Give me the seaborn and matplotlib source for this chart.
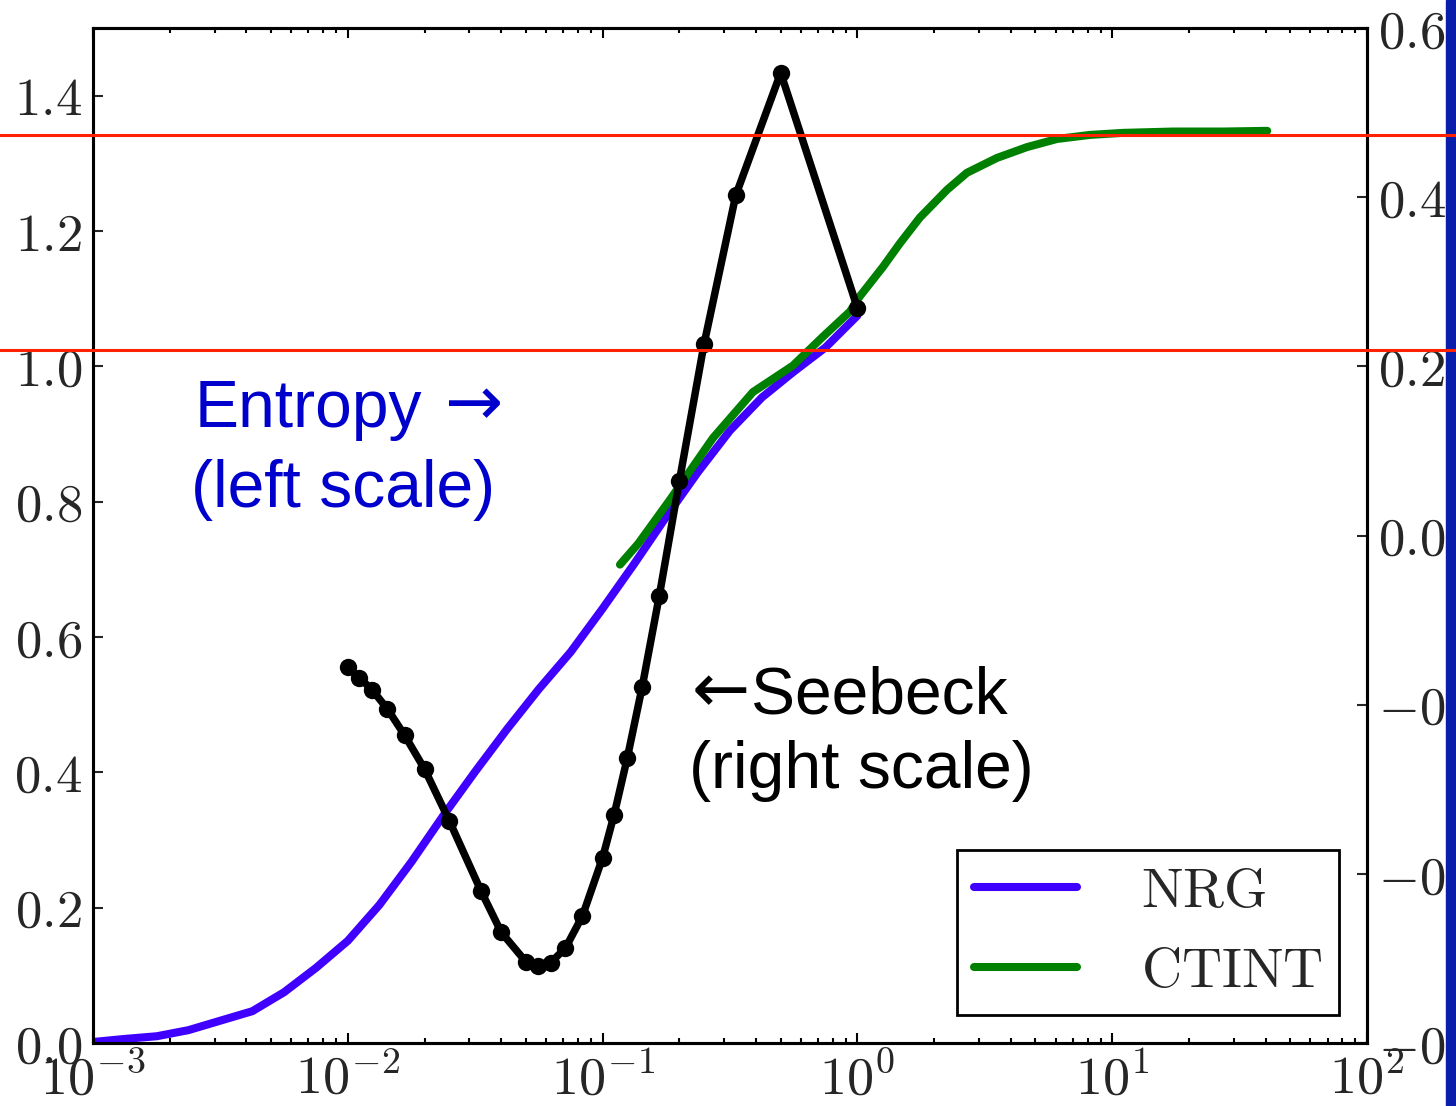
import matplotlib
matplotlib.use("Agg")
import numpy as np
import pandas as pd
import matplotlib.pyplot as plt
import seaborn as sns
from matplotlib.ticker import FixedLocator, FuncFormatter, LogLocator, NullFormatter
from matplotlib.lines import Line2D
from matplotlib.patches import Rectangle
from matplotlib.transforms import blended_transform_factory

# ---------------- data ----------------
nrg_T = [0.001, 0.00133, 0.00178, 0.00237, 0.00316, 0.00422, 0.00562, 0.0075,
         0.01, 0.0133, 0.0178, 0.0237, 0.0316, 0.0422, 0.0562, 0.075,
         0.1, 0.133, 0.178, 0.237, 0.316, 0.422, 0.562, 0.75, 1.0]
nrg_S = [0.0015, 0.006, 0.010, 0.019, 0.033, 0.047, 0.075, 0.111,
         0.151, 0.204, 0.268, 0.336, 0.401, 0.464, 0.523, 0.578,
         0.642, 0.708, 0.778, 0.844, 0.905, 0.954, 0.992, 1.028, 1.075]

ctint_T = [0.117, 0.138, 0.184, 0.271, 0.389, 0.558, 0.733, 0.935, 1.02, 1.26,
           1.47, 1.76, 2.25, 2.69, 3.53, 4.63, 6.07, 8.18, 11.0, 17.3, 27.2, 40.6]
ctint_S = [0.707, 0.738, 0.803, 0.894, 0.962, 1.001, 1.044, 1.081, 1.103, 1.147,
           1.182, 1.220, 1.261, 1.286, 1.308, 1.324, 1.336, 1.342, 1.345, 1.347, 1.347, 1.348]

seebeck_T = [0.01, 0.0111, 0.0125, 0.0143, 0.0167, 0.02, 0.025, 0.0333, 0.04, 0.05,
             0.0556, 0.0625, 0.0714, 0.0833, 0.1, 0.111, 0.125, 0.143, 0.167, 0.2,
             0.25, 0.333, 0.5, 1.0]
seebeck_val = [-0.156, -0.168, -0.183, -0.205, -0.236, -0.276, -0.337, -0.420, -0.469, -0.504,
               -0.509, -0.505, -0.488, -0.450, -0.381, -0.330, -0.263, -0.179, -0.071, 0.064,
               0.226, 0.402, 0.547, 0.269]

ref_levels = [1.342, 1.0245]          # red horizontal reference lines (left scale)
left_ticks = [0.0, 0.2, 0.4, 0.6, 0.8, 1.0, 1.2, 1.4]
right_ticks = [-0.6, -0.4, -0.2, 0.0, 0.2, 0.4, 0.6]
x_tick_exps = [-3, -2, -1, 0, 1, 2]
series_labels = ["NRG", "CTINT"]

# ---------------- style ----------------
sns.set_style("ticks")
plt.rcParams["mathtext.fontset"] = "cm"
plt.rcParams["font.family"] = ["Liberation Sans", "DejaVu Sans"]

fig = plt.figure(figsize=(14.56, 11.06), dpi=100)
ax = fig.add_axes([93 / 1456, 1 - 1043 / 1106, (1367 - 93) / 1456, (1043 - 28) / 1106])
ax2 = ax.twinx()

df_nrg = pd.DataFrame({"T": nrg_T, "S": nrg_S})
df_ct = pd.DataFrame({"T": ctint_T, "S": ctint_S})
df_sb = pd.DataFrame({"T": seebeck_T, "Q": seebeck_val})

sns.lineplot(data=df_nrg, x="T", y="S", ax=ax, color="#4000FF", lw=5.8,
             label=r"$\mathrm{%s}$" % series_labels[0])
sns.lineplot(data=df_ct, x="T", y="S", ax=ax, color="#008000", lw=5.8,
             label=r"$\mathrm{%s}$" % series_labels[1])
sns.lineplot(data=df_sb, x="T", y="Q", ax=ax2, color="black", lw=5.4,
             marker="o", markersize=12.5, markeredgewidth=0, legend=False)

ax.set_xscale("log")
ax.set_xlim(1e-3, 1e2)
ax.set_ylim(0, 1.5)
ax2.set_ylim(-0.6, 0.6)

ax.set_xlabel("")
ax.set_ylabel("")
ax2.set_ylabel("")

ax.xaxis.set_major_locator(FixedLocator([10.0 ** e for e in x_tick_exps]))
ax.xaxis.set_major_formatter(FuncFormatter(lambda v, p: r"$10^{%d}$" % int(round(np.log10(v)))))
ax.xaxis.set_minor_locator(LogLocator(base=10, subs=np.arange(2, 10)))
ax.xaxis.set_minor_formatter(NullFormatter())

ax.yaxis.set_major_locator(FixedLocator(left_ticks))
ax.yaxis.set_major_formatter(FuncFormatter(lambda v, p: r"$%.1f$" % v))
ax2.yaxis.set_major_locator(FixedLocator(right_ticks))
ax2.yaxis.set_major_formatter(FuncFormatter(lambda v, p: r"$%.1f$" % v))

for a in (ax, ax2):
    for s in a.spines.values():
        s.set_linewidth(2.2)
        s.set_color("black")
ax.tick_params(axis="x", which="both", direction="in", top=True, bottom=True,
               labelsize=39, pad=8, width=1.5, color="black")
ax.tick_params(axis="x", which="major", length=7)
ax.tick_params(axis="x", which="minor", length=3.5)
ax.tick_params(axis="y", which="major", direction="in", left=True, right=False,
               labelsize=38, pad=8, length=7, width=1.5)
ax2.tick_params(axis="y", which="major", direction="in", left=False, right=True,
                labelsize=38, pad=8, length=7, width=1.5)

# annotations
blue_txt = "#0000CC"
t_ent = ax.text(0.080, 0.607, "Entropy", transform=ax.transAxes, color=blue_txt,
                fontsize=47.5, va="baseline", ha="left")
ax.annotate("\u2192", xy=(1, 0), xycoords=t_ent, xytext=(16, 1), textcoords="offset points",
            color=blue_txt, fontsize=50, family="DejaVu Sans", va="bottom", ha="left")
ax.text(0.077, 0.528, "(left scale)", transform=ax.transAxes, color=blue_txt,
        fontsize=47.5, va="baseline", ha="left")
t_arr = ax.text(0.470, 0.326, "\u2190", transform=ax.transAxes, color="black",
                fontsize=50, family="DejaVu Sans", va="baseline", ha="left")
ax.annotate("Seebeck", xy=(1, 0), xycoords=t_arr, xytext=(1, -1), textcoords="offset points",
            color="black", fontsize=47.5, va="bottom", ha="left")
ax.text(0.468, 0.251, "(right scale)", transform=ax.transAxes, color="black",
        fontsize=47.5, va="baseline", ha="left")

leg = ax.legend(loc="lower right", fontsize=40, frameon=True, fancybox=False,
                edgecolor="black", framealpha=1, handlelength=1.85, handletextpad=1.15,
                borderpad=0.3, labelspacing=0.5, borderaxespad=0.5)
leg.get_frame().set_linewidth(2)

# slide decoration: blue strip at the right edge
fig.add_artist(Rectangle((1446 / 1456, 0), 10 / 1456, 1, transform=fig.transFigure,
                         color="#0A1EAA", zorder=5))
# red reference lines spanning the full figure width
trans = blended_transform_factory(fig.transFigure, ax.transData)
for lvl in ref_levels:
    fig.add_artist(Line2D([0, 1], [lvl, lvl], transform=trans, color="#FF2200",
                          lw=2.2, zorder=10))

fig.savefig("out.png", dpi=100)
